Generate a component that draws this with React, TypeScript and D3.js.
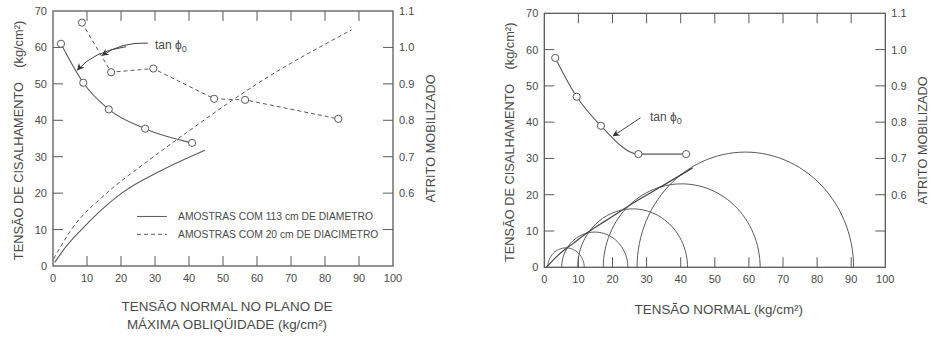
import React from "react";
import * as d3 from "d3";

// ---------- data ----------
const xTicks = [0, 10, 20, 30, 40, 50, 60, 70, 80, 90, 100];
const yTicks = [0, 10, 20, 30, 40, 50, 60, 70];
const yRightTicks = [0.5, 0.6, 0.7, 0.8, 0.9, 1.0, 1.1];
const yRightLabels = ["0.6", "0.7", "0.8", "0.9", "1.0", "1.1"];

// Left panel – friction (right axis) vs normal stress
const tan113X = [2.35, 8.9, 16.4, 27.1, 40.9];
const tan113Y = [1.01, 0.903, 0.83, 0.777, 0.738];
const tan20X = [8.5, 17.1, 29.5, 47.4, 56.5, 83.9];
const tan20Y = [1.068, 0.932, 0.942, 0.859, 0.856, 0.804];

// Left panel – strength envelopes (left axis)
const env113X = [0.5, 4, 8.4, 14, 20.2, 32, 44.7];
const env113Y = [1, 5.5, 10, 15.2, 20, 26.3, 31.8];
const env20X = [0.2, 5.4, 15.8, 27, 40.3, 60, 87.8];
const env20Y = [2, 10, 20, 28.2, 37.3, 50, 64.8];

const legendLabels = [
  "AMOSTRAS COM 113 cm DE DIAMETRO",
  "AMOSTRAS COM 20 cm DE DIACIMETRO",
];

// Right panel – friction
const tanRX = [3.2, 9.5, 16.6, 27.6, 41.6];
const tanRY = [0.977, 0.87, 0.79, 0.712, 0.712];

// Right panel – Mohr circles (sigma3, sigma1)
const mohrSigma3 = [1.0, 5.1, 9.8, 17.3, 27.2];
const mohrSigma1 = [11.7, 24.5, 42.0, 63.3, 90.7];

// Right panel – envelope
const envRX = [0.6, 4, 8.5, 13, 18.3, 28, 36, 43.5];
const envRY = [0, 3.3, 6.6, 9.8, 13, 18.8, 23.2, 27.4];

const COL = "#5a5a5a";
const TXT = "#4a4a4a";
const FONT = "Liberation Sans, Arial, sans-serif";

type Box = { x0: number; x1: number; y0: number; y1: number };

function Frame({ box }: { box: Box }) {
  const x = d3.scaleLinear().domain([0, 100]).range([box.x0, box.x1]);
  const y = d3.scaleLinear().domain([0, 70]).range([box.y1, box.y0]);
  const yr = d3.scaleLinear().domain([0.4, 1.1]).range([box.y1, box.y0]);
  const T = 10;
  return (
    <g>
      <rect
        x={box.x0}
        y={box.y0}
        width={box.x1 - box.x0}
        height={box.y1 - box.y0}
        fill="none"
        stroke={COL}
        strokeWidth={1.3}
      />
      {xTicks.slice(1, -1).map((t) => (
        <g key={"xt" + t}>
          <line x1={x(t)} x2={x(t)} y1={box.y1} y2={box.y1 - T} stroke={COL} />
          <line x1={x(t)} x2={x(t)} y1={box.y0} y2={box.y0 + T} stroke={COL} />
        </g>
      ))}
      {xTicks.map((t) => (
        <text
          key={"xl" + t}
          x={x(t)}
          y={box.y1 + 16}
          textAnchor="middle"
          fontSize={11}
          fill={TXT}
          fontFamily={FONT}
        >
          {t}
        </text>
      ))}
      {yTicks.slice(1, -1).map((t) => (
        <line key={"yt" + t} x1={box.x0} x2={box.x0 + T} y1={y(t)} y2={y(t)} stroke={COL} />
      ))}
      {yTicks.map((t) => (
        <text
          key={"yl" + t}
          x={box.x0 - 6}
          y={y(t) + 4}
          textAnchor="end"
          fontSize={11}
          fill={TXT}
          fontFamily={FONT}
        >
          {t}
        </text>
      ))}
      {yRightTicks.slice(0, -1).map((t) => (
        <line key={"rt" + t} x1={box.x1 - T} x2={box.x1} y1={yr(t)} y2={yr(t)} stroke={COL} />
      ))}
      {yRightLabels.map((t) => (
        <text
          key={"rl" + t}
          x={box.x1 + 6}
          y={yr(+t) + 4}
          textAnchor="start"
          fontSize={11}
          fill={TXT}
          fontFamily={FONT}
        >
          {t}
        </text>
      ))}
      <text
        transform={`translate(${box.x0 - 30},${(box.y0 + box.y1) / 2 + 2}) rotate(-90)`}
        textAnchor="middle"
        fontSize={12.8}
        fill={TXT}
        fontFamily={FONT}
        style={{ whiteSpace: "pre" }}
      >
        {"TENSÃO DE CISALHAMENTO    (kg/cm²)"}
      </text>
      <text
        transform={`translate(${box.x1 + 42},${(box.y0 + box.y1) / 2}) rotate(-90)`}
        textAnchor="middle"
        fontSize={12.8}
        fill={TXT}
        fontFamily={FONT}
      >
        ATRITO MOBILIZADO
      </text>
    </g>
  );
}

function Markers({ xs, ys, x, y }: { xs: number[]; ys: number[]; x: any; y: any }) {
  return (
    <g>
      {xs.map((v, i) => (
        <circle key={i} cx={x(v)} cy={y(ys[i])} r={3.6} fill="white" stroke={COL} strokeWidth={1} />
      ))}
    </g>
  );
}

export default function App() {
  const L: Box = { x0: 53, x1: 393, y0: 11, y1: 266 };
  const R: Box = { x0: 544.3, x1: 885.3, y0: 13.3, y1: 267.3 };

  const lx = d3.scaleLinear().domain([0, 100]).range([L.x0, L.x1]);
  const ly = d3.scaleLinear().domain([0, 70]).range([L.y1, L.y0]);
  const lyr = d3.scaleLinear().domain([0.4, 1.1]).range([L.y1, L.y0]);

  const rx = d3.scaleLinear().domain([0, 100]).range([R.x0, R.x1]);
  const ry = d3.scaleLinear().domain([0, 70]).range([R.y1, R.y0]);
  const ryr = d3.scaleLinear().domain([0.4, 1.1]).range([R.y1, R.y0]);

  const smooth = (xs: number[], ys: number[], sx: any, sy: any) =>
    d3
      .line<number>()
      .x((_, i) => sx(xs[i]))
      .y((_, i) => sy(ys[i]))
      .curve(d3.curveMonotoneX)(xs) as string;
  const straight = (xs: number[], ys: number[], sx: any, sy: any) =>
    d3
      .line<number>()
      .x((_, i) => sx(xs[i]))
      .y((_, i) => sy(ys[i]))(xs) as string;

  // Mohr semicircles
  const mohr = mohrSigma3.map((s3, i) => {
    const s1 = mohrSigma1[i];
    const c = (s1 + s3) / 2;
    const r = (s1 - s3) / 2;
    const pts = d3.range(0, 181, 3).map((deg) => {
      const a = (deg * Math.PI) / 180;
      return [rx(c + r * Math.cos(a)), ry(r * Math.sin(a))] as [number, number];
    });
    return d3.line()(pts) as string;
  });

  // annotation anchors in data coordinates
  const annL = { tx: 30, ty: 59.5 };
  const arrowL1 = { x0: 27.9, y0: 61.2, cx: 20, cy: 61.5, x1: 14.5, y1: 57.8 };
  const arrowL2 = { x0: 21.5, y0: 60.2, cx: 12, cy: 59, x1: 7.2, y1: 53.8 };
  const annR = { tx: 31, ty: 40.2 };
  const arrowR = { x0: 28.2, y0: 41.2, x1: 20.2, y1: 36.2 };

  return (
    <div style={{ position: "fixed", left: 0, top: 0 }}>
      <svg width={933} height={338} style={{ display: "block", background: "white" }}>
        <defs>
          <marker
            id="ah"
            viewBox="0 0 10 10"
            refX={9}
            refY={5}
            markerWidth={7}
            markerHeight={7}
            orient="auto"
            markerUnits="userSpaceOnUse"
          >
            <path d="M0,0 L10,5 L0,10 L3,5 z" fill="#333" />
          </marker>
        </defs>

        {/* ---------- LEFT PANEL ---------- */}
        <Frame box={L} />
        <path d={smooth(env113X, env113Y, lx, ly)} fill="none" stroke={COL} strokeWidth={1.1} />
        <path
          d={smooth(env20X, env20Y, lx, ly)}
          fill="none"
          stroke={COL}
          strokeWidth={1}
          strokeDasharray="4,3"
        />
        <path d={smooth(tan113X, tan113Y, lx, lyr)} fill="none" stroke={COL} strokeWidth={1.1} />
        <path
          d={straight(tan20X, tan20Y, lx, lyr)}
          fill="none"
          stroke={COL}
          strokeWidth={1}
          strokeDasharray="4,3"
        />
        <Markers xs={tan113X} ys={tan113Y} x={lx} y={lyr} />
        <Markers xs={tan20X} ys={tan20Y} x={lx} y={lyr} />

        <text x={lx(annL.tx)} y={ly(annL.ty)} fontSize={12} fill={TXT} fontFamily={FONT}>
          tan ϕ<tspan fontSize={9} dy={3}>0</tspan>
        </text>
        <path
          d={`M${lx(arrowL1.x0)},${ly(arrowL1.y0)} Q${lx(arrowL1.cx)},${ly(arrowL1.cy)} ${lx(arrowL1.x1)},${ly(arrowL1.y1)}`}
          fill="none"
          stroke="#444"
          strokeWidth={1}
          markerEnd="url(#ah)"
        />
        <path
          d={`M${lx(arrowL2.x0)},${ly(arrowL2.y0)} Q${lx(arrowL2.cx)},${ly(arrowL2.cy)} ${lx(arrowL2.x1)},${ly(arrowL2.y1)}`}
          fill="none"
          stroke="#444"
          strokeWidth={1}
          markerEnd="url(#ah)"
        />

        {/* legend */}
        {legendLabels.map((lab, i) => (
          <g key={lab}>
            <line
              x1={lx(24.7)}
              x2={lx(33.5)}
              y1={ly(13.6 - i * 4.9)}
              y2={ly(13.6 - i * 4.9)}
              stroke={COL}
              strokeWidth={1}
              strokeDasharray={i === 1 ? "4,3" : undefined}
            />
            <text
              x={lx(36.8)}
              y={ly(13.6 - i * 4.9) + 3.7}
              fontSize={10.3}
              fill={TXT}
              fontFamily={FONT}
            >
              {lab}
            </text>
          </g>
        ))}

        <text x={(L.x0 + L.x1) / 2 + 4} y={311} textAnchor="middle" fontSize={13.4} fill={TXT} fontFamily={FONT}>
          TENSÃO NORMAL NO PLANO DE
        </text>
        <text x={(L.x0 + L.x1) / 2 + 4} y={329} textAnchor="middle" fontSize={13.4} fill={TXT} fontFamily={FONT}>
          MÁXIMA OBLIQÜIDADE (kg/cm²)
        </text>

        {/* ---------- RIGHT PANEL ---------- */}
        <Frame box={R} />
        {mohr.map((d, i) => (
          <path key={i} d={d} fill="none" stroke={COL} strokeWidth={1} />
        ))}
        <path d={smooth(envRX, envRY, rx, ry)} fill="none" stroke="#444" strokeWidth={1.2} />
        <path d={smooth(tanRX, tanRY, rx, ryr)} fill="none" stroke={COL} strokeWidth={1.1} />
        <Markers xs={tanRX} ys={tanRY} x={rx} y={ryr} />
        <text x={rx(annR.tx)} y={ry(annR.ty)} fontSize={12} fill={TXT} fontFamily={FONT}>
          tan ϕ<tspan fontSize={9} dy={3}>0</tspan>
        </text>
        <line
          x1={rx(arrowR.x0)}
          y1={ry(arrowR.y0)}
          x2={rx(arrowR.x1)}
          y2={ry(arrowR.y1)}
          stroke="#444"
          strokeWidth={1}
          markerEnd="url(#ah)"
        />
        <text x={(R.x0 + R.x1) / 2 + 4} y={314} textAnchor="middle" fontSize={13.4} fill={TXT} fontFamily={FONT}>
          TENSÃO NORMAL (kg/cm²)
        </text>
      </svg>
    </div>
  );
}
